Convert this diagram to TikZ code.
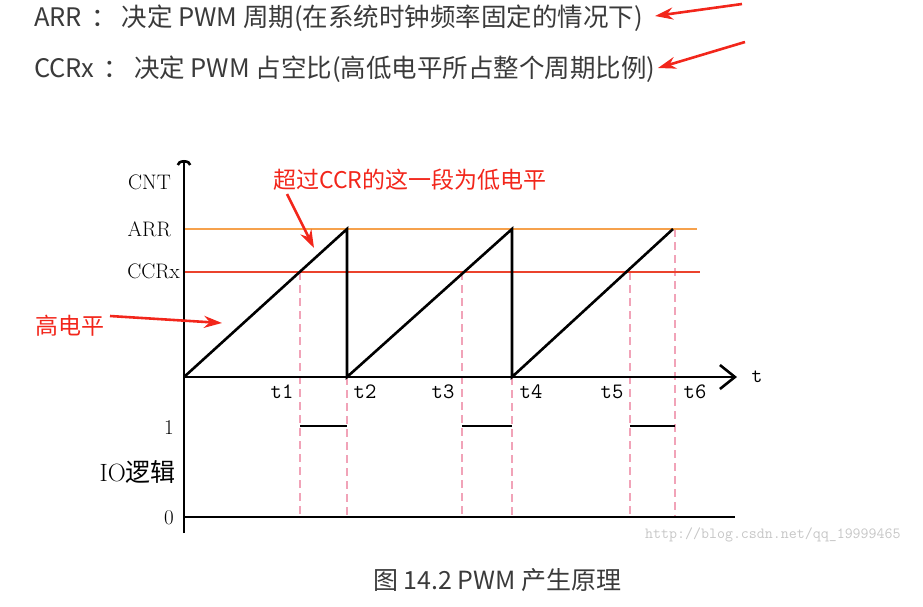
\documentclass[tikz,border=0pt]{standalone}
\usepackage{fontspec}
\usetikzlibrary{positioning,arrows.meta}
\newfontfamily\cjk{Noto Sans CJK SC}
\definecolor{rojo}{HTML}{F2261B}
\definecolor{naranja}{HTML}{F6A14C}
\definecolor{ccr}{HTML}{EB432C}
\definecolor{rosa}{HTML}{F1A3B8}
\definecolor{gris}{HTML}{3A3A3A}

\begin{document}
\begin{tikzpicture}[x=1pt, y=-1pt,
      txt/.style={inner sep=0pt, text=gris, font=\cjk\fontsize{25.5}{28}\selectfont},
      lab/.style={inner sep=0pt, font=\fontsize{21}{23}\selectfont},
      tlab/.style={inner sep=0pt, font=\ttfamily\fontsize{22}{24}\selectfont},
      nota/.style={inner sep=0pt, text=rojo, font=\cjk\fontsize{23}{25}\selectfont},
      flecha/.style={draw=rojo, line width=2.6pt, -{Stealth[length=18pt, width=12pt]}},
      axis/.style={line width=2.6pt},
      saw/.style={line width=2.6pt, line join=miter},
      guia/.style={draw=rosa, line width=1.4pt, dash pattern=on 8pt off 5pt}]
    \useasboundingbox (0,0) rectangle (923,606);
    % texto de arriba
    \node[txt, anchor=west] (arrtxt) at (34,18) {ARR\hspace{0.35em}：\hspace{0.2em}决定 PWM 周期(在系统时钟频率固定的情况下)};
    \node[txt, anchor=west] (ccrtxt) at (34,69) {CCRx\hspace{0.35em}：\hspace{0.2em}决定 PWM 占空比(高低电平所占整个周期比例)};
    \coordinate (a1) at (742,4);  \coordinate (a1t) at (655,16);
    \coordinate (a2) at (745,42); \coordinate (a2t) at (658,68);
    \draw[flecha] (a1) -- (a1t);
    \draw[flecha] (a2) -- (a2t);
    % ejes
    \coordinate (O) at (184,377);
    \coordinate (ytop) at (184,160);
    \coordinate (ybot) at (184,533);
    \coordinate (xend) at (737,377);
    % lineas guia
    \draw[guia] (300,272) -- (300,517);
    \draw[guia] (347,377) -- (347,517);
    \draw[guia] (462,272) -- (462,517);
    \draw[guia] (512,377) -- (512,517);
    \draw[guia] (630,272) -- (630,517);
    \draw[guia] (675,229) -- (675,517);
    % niveles ARR y CCRx
    \draw[naranja, line width=2.2pt] (184,229) -- (697,229);
    \draw[ccr, line width=2.2pt] (184,272) -- (700,272);
    \draw[axis, -{Arc Barb[length=5pt, width=15pt]}] (ybot) -- (ytop);
    \draw[axis, -{Straight Barb[length=15pt, width=24pt]}] (O) -- (xend);
    % diente de sierra
    \draw[saw] (O) -- (347,229) -- (347,377) -- (512,229) -- (512,377) -- (673,229);
    % salida IO
    \draw[axis] (184,517) -- (735,517);
    \draw[axis] (300,426) -- (347,426);
    \draw[axis] (462,426) -- (512,426);
    \draw[axis] (630,426) -- (675,426);
    % etiquetas
    \node[lab, anchor=east] (cnt) at (171,182) {CNT};
    \node[lab, anchor=east] (arr) at (171,229) {ARR};
    \node[lab, anchor=east] (ccrx) at (180,271) {CCRx};
    \node[lab, anchor=east] (uno) at (174,428) {1};
    \node[lab, anchor=east, font=\fontsize{25}{27}\selectfont] (io) at (176,472) {IO{\cjk 逻辑}};
    \node[lab, anchor=east] (cero) at (174,518) {0};
    \node[lab] (tt) at (757,377) {\ttfamily t};
    \node[tlab] (t1) at (282,392) {t1};
    \node[tlab] (t2) at (365,392) {t2};
    \node[tlab] (t3) at (443,392) {t3};
    \node[tlab] (t4) at (531,392) {t4};
    \node[tlab] (t5) at (612,392) {t5};
    \node[tlab] (t6) at (695,392) {t6};
    % notas en rojo
    \node[nota, anchor=west] (bajo) at (273,180) {超过CCR的这一段为低电平};
    \node[nota, anchor=west] (alto) at (35,326) {高电平};
    \coordinate (b1) at (287,194); \coordinate (b1t) at (314,248);
    \coordinate (h1) at (110,316); \coordinate (h1t) at (222,323);
    \draw[flecha] (b1) -- (b1t);
    \draw[flecha] (h1) -- (h1t);
    % pie
    \node[inner sep=0pt, anchor=west, text=gray!45, font=\ttfamily\fontsize{15.5}{17}\selectfont] (web) at (645,535) {http://blog.csdn.net/qq\_19999465};
    \node[txt, anchor=west, font=\cjk\fontsize{25}{27}\selectfont] (cap) at (373,580) {图 14.2 PWM 产生原理};
\end{tikzpicture}
\end{document}
